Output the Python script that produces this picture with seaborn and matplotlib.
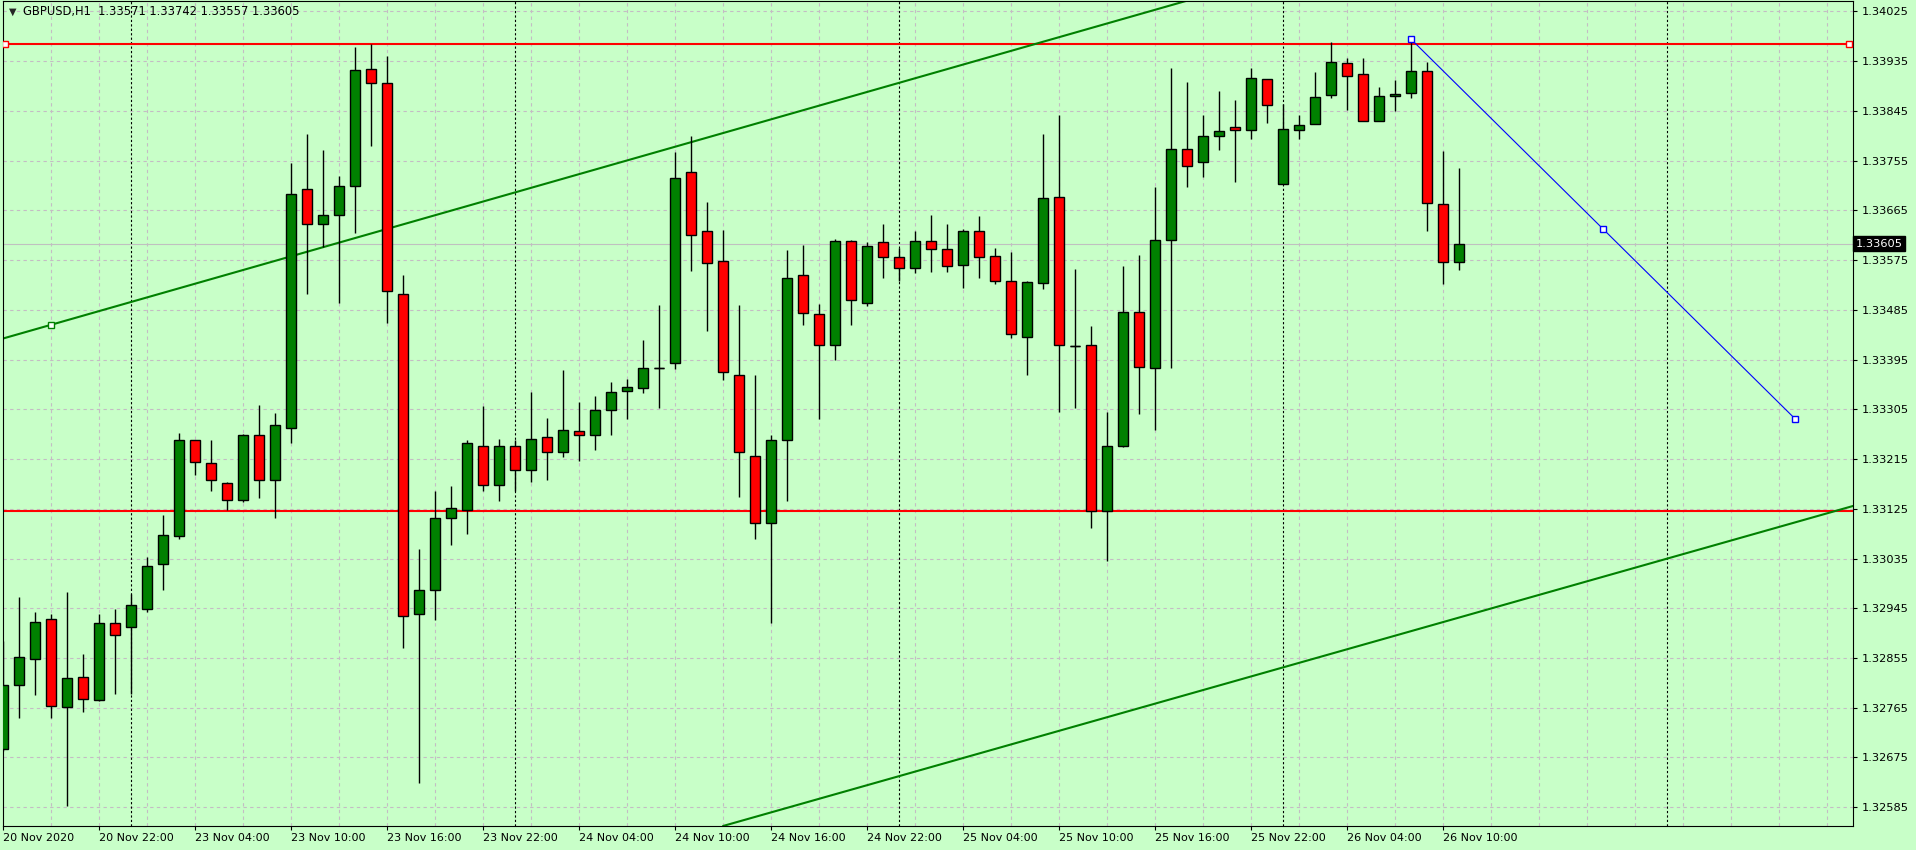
#%% GBPUSD H1 candlestick chart (MT4 style)

import numpy as np
import matplotlib
matplotlib.use("Agg")
import matplotlib.pyplot as plt
import seaborn as sns

#%% Data - hourly bars, 20 Nov 2020 16:00 ... 26 Nov 2020 11:00

opens = [
    1.32690, 1.32807, 1.32854, 1.32925, 1.32767, 1.32821, 1.32779, 1.32919, 1.32911, 1.32944,
    1.33025, 1.33076, 1.33249, 1.33208, 1.33172, 1.33141, 1.33259, 1.33178, 1.33271, 1.33703,
    1.33640, 1.33656, 1.33709, 1.33921, 1.33895, 1.33514, 1.32934, 1.32978, 1.33109, 1.33123,
    1.33239, 1.33168, 1.33239, 1.33195, 1.33255, 1.33228, 1.33265, 1.33259, 1.33303, 1.33339,
    1.33344, 1.33380, 1.33388, 1.33734, 1.33627, 1.33573, 1.33367, 1.33221, 1.33099, 1.33249,
    1.33549, 1.33477, 1.33422, 1.33609, 1.33497, 1.33607, 1.33581, 1.33560, 1.33609, 1.33595,
    1.33567, 1.33627, 1.33583, 1.33538, 1.33436, 1.33534, 1.33689, 1.33420, 1.33422, 1.33121,
    1.33239, 1.33481, 1.33379, 1.33612, 1.33777, 1.33753, 1.33799, 1.33816, 1.33811, 1.33902,
    1.33712, 1.33810, 1.33821, 1.33873, 1.33931, 1.33911, 1.33827, 1.33872, 1.33878, 1.33917,
    1.33677, 1.33571]

highs = [
    1.32886, 1.32965, 1.32939, 1.32934, 1.32974, 1.32862, 1.32934, 1.32944, 1.32970, 1.33038,
    1.33113, 1.33262, 1.33250, 1.33249, 1.33174, 1.33261, 1.33313, 1.33298, 1.33751, 1.33803,
    1.33775, 1.33728, 1.33960, 1.33967, 1.33944, 1.33548, 1.33052, 1.33158, 1.33166, 1.33250,
    1.33311, 1.33252, 1.33249, 1.33336, 1.33290, 1.33376, 1.33319, 1.33329, 1.33354, 1.33360,
    1.33431, 1.33493, 1.33770, 1.33799, 1.33680, 1.33630, 1.33493, 1.33367, 1.33258, 1.33594,
    1.33602, 1.33495, 1.33614, 1.33612, 1.33607, 1.33641, 1.33597, 1.33628, 1.33657, 1.33641,
    1.33632, 1.33655, 1.33597, 1.33590, 1.33538, 1.33803, 1.33838, 1.33559, 1.33456, 1.33301,
    1.33564, 1.33584, 1.33708, 1.33923, 1.33897, 1.33838, 1.33881, 1.33865, 1.33923, 1.33902,
    1.33857, 1.33838, 1.33915, 1.33969, 1.33941, 1.33941, 1.33889, 1.33901, 1.33974, 1.33933,
    1.33773, 1.33742]

lows = [
    1.32687, 1.32747, 1.32788, 1.32747, 1.32587, 1.32757, 1.32777, 1.32790, 1.32790, 1.32939,
    1.32978, 1.33070, 1.33187, 1.33157, 1.33123, 1.33137, 1.33145, 1.33109, 1.33245, 1.33513,
    1.33599, 1.33498, 1.33624, 1.33781, 1.33461, 1.32874, 1.32629, 1.32923, 1.33059, 1.33080,
    1.33157, 1.33139, 1.33157, 1.33174, 1.33178, 1.33218, 1.33212, 1.33231, 1.33259, 1.33288,
    1.33335, 1.33307, 1.33378, 1.33555, 1.33446, 1.33358, 1.33147, 1.33070, 1.32919, 1.33139,
    1.33457, 1.33287, 1.33394, 1.33458, 1.33492, 1.33542, 1.33538, 1.33551, 1.33553, 1.33553,
    1.33524, 1.33542, 1.33531, 1.33434, 1.33367, 1.33522, 1.33301, 1.33307, 1.33091, 1.33030,
    1.33237, 1.33296, 1.33267, 1.33379, 1.33708, 1.33726, 1.33775, 1.33717, 1.33794, 1.33823,
    1.33712, 1.33795, 1.33821, 1.33868, 1.33847, 1.33826, 1.33827, 1.33845, 1.33868, 1.33628,
    1.33531, 1.33557]

closes = [
    1.32807, 1.32856, 1.32921, 1.32769, 1.32819, 1.32781, 1.32919, 1.32896, 1.32951, 1.33022,
    1.33078, 1.33249, 1.33209, 1.33178, 1.33141, 1.33259, 1.33178, 1.33277, 1.33695, 1.33640,
    1.33656, 1.33709, 1.33919, 1.33895, 1.33520, 1.32931, 1.32978, 1.33109, 1.33127, 1.33245,
    1.33168, 1.33239, 1.33195, 1.33252, 1.33227, 1.33267, 1.33259, 1.33303, 1.33337, 1.33346,
    1.33380, 1.33380, 1.33723, 1.33620, 1.33569, 1.33372, 1.33227, 1.33099, 1.33249, 1.33542,
    1.33479, 1.33422, 1.33609, 1.33502, 1.33601, 1.33580, 1.33560, 1.33609, 1.33596, 1.33565,
    1.33628, 1.33580, 1.33538, 1.33442, 1.33536, 1.33687, 1.33422, 1.33420, 1.33121, 1.33239,
    1.33482, 1.33382, 1.33612, 1.33776, 1.33746, 1.33799, 1.33808, 1.33811, 1.33904, 1.33855,
    1.33813, 1.33819, 1.33870, 1.33933, 1.33908, 1.33827, 1.33872, 1.33875, 1.33917, 1.33678,
    1.33571, 1.33605]

time_labels = ["20 Nov 2020", "20 Nov 22:00", "23 Nov 04:00", "23 Nov 10:00",
               "23 Nov 16:00", "23 Nov 22:00", "24 Nov 04:00", "24 Nov 10:00",
               "24 Nov 16:00", "24 Nov 22:00", "25 Nov 04:00", "25 Nov 10:00",
               "25 Nov 16:00", "25 Nov 22:00", "26 Nov 04:00", "26 Nov 10:00"]

price_ticks = [1.32585, 1.32675, 1.32765, 1.32855, 1.32945, 1.33035, 1.33125,
               1.33215, 1.33305, 1.33395, 1.33485, 1.33575, 1.33665, 1.33755,
               1.33845, 1.33935, 1.34025]

day_breaks = [8, 32, 56, 80, 104]

# drawn objects (bar index, price)
resistance = 1.33967
support = 1.33121
upper_channel = [(3, 1.33458), (45, 1.33805)]
lower_channel = [(60, 1.32674), (110, 1.33084)]
blue_line = [(88, 1.33975), (100, 1.33631), (112, 1.33288)]

symbol = "GBPUSD,H1"
bid = 1.33605

#%% Style

bg = "#c8ffc8"
sns.set_theme(style = "ticks", rc = {"figure.facecolor": bg, "axes.facecolor": bg,
                                     "axes.edgecolor": "black", "axes.linewidth": 0.8})
plt.rcParams["font.family"] = ["DejaVu Sans"]

fig = plt.figure(figsize = (19.16, 8.5), dpi = 100)
ax = fig.add_axes([2.7 / 1916, 24 / 850, (1853 - 2.7) / 1916, 825 / 850])

x = np.arange(len(opens))
o = np.array(opens)
c = np.array(closes)

#%% Grid, separators

for gx in np.arange(3, 116, 3):
    ax.axvline(gx, color = "#c4bcc4", lw = 0.8, ls = (0, (3, 3)), zorder = 0)
for gy in price_ticks:
    ax.axhline(gy, color = "#c4bcc4", lw = 0.8, ls = (0, (3, 3)), zorder = 0)
for d in day_breaks:
    ax.axvline(d, color = "black", lw = 0.8, ls = (0, (2, 2)), zorder = 1)

ax.axhline(bid, color = "#c0c0c0", lw = 0.8, zorder = 1)

#%% Objects

ax.axhline(resistance, color = "#ff0000", lw = 1.5, zorder = 2)
ax.axhline(support, color = "#ff0000", lw = 1.5, zorder = 2)
ax.plot([0.1, 115.35], [resistance, resistance], ls = "none", marker = "s", ms = 4,
        mfc = "white", mec = "#ff0000", mew = 1, zorder = 6)

ax.axline(upper_channel[0], upper_channel[1], color = "#008000", lw = 1.5, zorder = 2)
ax.axline(lower_channel[0], lower_channel[1], color = "#008000", lw = 1.5, zorder = 2)
ax.plot([upper_channel[0][0]], [upper_channel[0][1]], ls = "none", marker = "s", ms = 4,
        mfc = "white", mec = "#008000", mew = 1, zorder = 6)

bx = [p[0] for p in blue_line]
by = [p[1] for p in blue_line]
ax.plot([bx[0], bx[-1]], [by[0], by[-1]], color = "#0000ff", lw = 0.8, zorder = 2)
ax.plot(bx, by, ls = "none", marker = "s", ms = 4, mfc = "white", mec = "#0000ff",
        mew = 1, zorder = 6)

#%% Candles

ax.vlines(x, lows, highs, color = "black", lw = 1.0, zorder = 3)

bull = c >= o
body_bottom = np.minimum(o, c)
body_height = np.abs(c - o)
colors = np.where(bull, "#008000", "#ff0000")
ax.bar(x, body_height, bottom = body_bottom, width = 0.66, color = colors,
       edgecolor = "black", linewidth = 1.0, zorder = 4)
doji = body_height < 0.00002
ax.hlines(o[doji], x[doji] - 0.33, x[doji] + 0.33, color = "black", lw = 1.0, zorder = 5)

#%% Axes

ax.set_xlim(-0.02, 115.625)
ax.set_ylim(1.32551, 1.34044)

ax.yaxis.tick_right()
ax.set_yticks(price_ticks)
ax.set_yticklabels(["%.5f" % p for p in price_ticks])
ax.tick_params(axis = "y", length = 3, width = 0.8, pad = 3, labelsize = 8.2,
               colors = "black")

ax.set_xticks(np.arange(0, 6 * len(time_labels), 6))
ax.set_xticklabels(time_labels, ha = "left", fontsize = 8)
ax.tick_params(axis = "x", length = 3, width = 0.8, pad = 2, colors = "black")
for lab in ax.get_xticklabels():
    lab.set_horizontalalignment("left")

for s in ax.spines.values():
    s.set_visible(True)
    s.set_color("black")

# header and bid box
ax.text(0.0035, 0.993, "\u25bc", transform = ax.transAxes, fontsize = 7,
        va = "top", ha = "left")
ax.text(0.0112, 0.995, "%s  %.5f %.5f %.5f %.5f" % (symbol, opens[-1], highs[-1], lows[-1], closes[-1]),
        transform = ax.transAxes, fontsize = 8.3, va = "top", ha = "left", color = "black")
ax.text(1.0015, bid, "%.5f" % bid, transform = ax.get_yaxis_transform(),
        fontsize = 8.2, color = "white", va = "center", ha = "left",
        bbox = dict(boxstyle = "square,pad=0.2", fc = "black", ec = "black"), zorder = 10,
        clip_on = False)

fig.savefig("out.png", dpi = 100, facecolor = bg)
